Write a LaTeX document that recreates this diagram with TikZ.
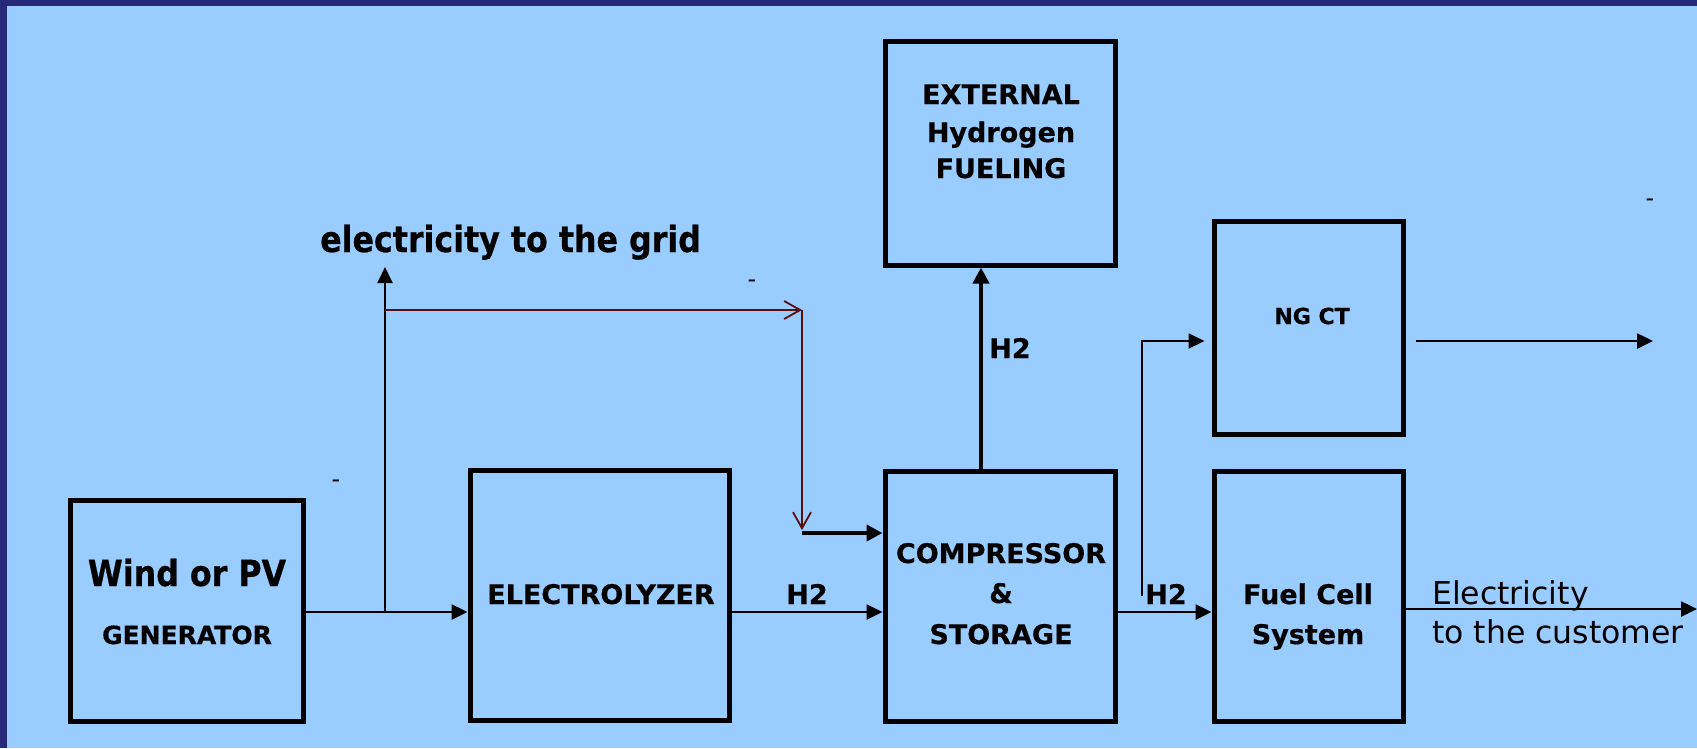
\documentclass[tikz,border=0pt]{standalone}
\usepackage{fontspec}
\setmainfont{DejaVu Sans}[BoldFeatures={FakeBold=0.5}]
\newfontfamily\condbold{DejaVu Sans}[BoldFeatures={FakeStretch=0.88,FakeBold=0.6}]
\usetikzlibrary{arrows.meta}
\definecolor{bgblue}{RGB}{153,204,255}
\definecolor{frameblue}{RGB}{38,40,122}
\definecolor{darkred}{RGB}{90,14,14}
\begin{document}
\begin{tikzpicture}[x=1pt,y=-1pt,
  blk/.style={draw=black, line width=5pt, inner sep=0pt, outer sep=2.5pt},
  tb/.style={font={\fontsize{27}{32}\selectfont\bfseries}, anchor=base, inner sep=0pt},
  tbig/.style={font={\condbold\fontsize{36}{42}\selectfont\bfseries}, anchor=base, inner sep=0pt},
  tgen/.style={font={\fontsize{25}{30}\selectfont\bfseries}, anchor=base, inner sep=0pt},
  tng/.style={font={\fontsize{22}{26}\selectfont\bfseries}, anchor=base, inner sep=0pt},
  treg/.style={font={\fontsize{31.5}{38}\selectfont}, anchor=base west, inner sep=0pt},
  tdash/.style={font={\fontsize{24}{26}\selectfont}, inner sep=0pt},
  arr/.style={line width=2.5pt, -{Triangle[length=16pt,width=15pt]}},
  thinarr/.style={line width=2pt, -{Triangle[length=16pt,width=15pt]}},
  thickarr/.style={line width=4pt, -{Triangle[length=16pt,width=16pt]}},
  redarr/.style={draw=darkred, line width=1.8pt, -{Straight Barb[length=16pt,width=18pt,line width=1.8pt]}}
]
% background and frame
\fill[bgblue] (0,0) rectangle (1697,748);
\fill[frameblue] (0,0) rectangle (7,748);
\fill[frameblue] (0,0) rectangle (1697,6);
\useasboundingbox (0,0) rectangle (1697,748);

% boxes
\node[blk, minimum width=233pt, minimum height=221pt] (gen) at (186.5,610.5) {};
\node[blk, minimum width=259pt, minimum height=250pt] (elec) at (599.5,595) {};
\node[blk, minimum width=230pt, minimum height=250pt] (comp) at (1000,596) {};
\node[blk, minimum width=230pt, minimum height=224pt] (ext) at (1000,153) {};
\node[blk, minimum width=189pt, minimum height=213pt] (ngct) at (1308.5,327.5) {};
\node[blk, minimum width=189pt, minimum height=250pt] (fuel) at (1308.5,596) {};

% box texts
\node[tbig] (genA) at (187,586) {Wind or PV};
\node[tgen] (genB) at (187,644) {GENERATOR};
\node[tb] (elecT) at (601,604) {ELECTROLYZER};
\node[tb] (compA) at (1001,563) {COMPRESSOR};
\node[tb] (compB) at (1001,603) {\&};
\node[tb] (compC) at (1001,644) {STORAGE};
\node[tb] (extA) at (1001,104) {EXTERNAL};
\node[tb] (extB) at (1001,142) {Hydrogen};
\node[tb] (extC) at (1001,178) {FUELING};
\node[tng] (ngT) at (1312,324) {NG CT};
\node[tb] (fuelA) at (1308,604) {Fuel Cell};
\node[tb] (fuelB) at (1308,644) {System};

% free labels
\node[tbig, anchor=base west] (grid) at (320,252) {electricity to the grid};
\node[tb] (h2a) at (807,604) {H2};
\node[tb] (h2b) at (1010,358) {H2};
\node[tb] (h2c) at (1166,604) {H2};
\node[treg] (elA) at (1432,604) {Electricity};
\node[treg] (elB) at (1432,643) {to the customer};
\node[tdash] (d1) at (336,484) {-};
\node[tdash] (d2) at (752,284) {-};
\node[tdash] (d3) at (1650,203) {-};

% coordinates
\coordinate (split) at (385,612);
\coordinate (gridtip) at (385,267);
\coordinate (redcorner) at (802,310);
\coordinate (redend) at (802,530);
\coordinate (cin) at (802,533);
\coordinate (upx) at (981,0);
\coordinate (ngb) at (1142,596);
\coordinate (ngy) at (0,341);
\coordinate (ngout) at (1653,341);
\coordinate (eend) at (1697,609);

% connectors
\draw[arr] (gen.east |- split) -- (elec.west |- split);
\draw[thinarr] (split) -- (gridtip);
\draw[redarr] (split |- redcorner) -- (redcorner);
\draw[redarr] (redcorner) -- (redend);
\draw[thickarr] (cin) -- (comp.west |- cin);
\draw[arr] (elec.east |- split) -- (comp.west |- split);
\draw[thickarr] (comp.north -| upx) -- (ext.south -| upx);
\draw[arr] (comp.east |- split) -- (fuel.west |- split);
\draw[thinarr] (ngb) |- ([xshift=-7pt]ngct.west |- ngy);
\draw[arr] ([xshift=10pt]ngct.east |- ngy) -- (ngout);
\draw[arr] (fuel.east |- eend) -- (eend);
\end{tikzpicture}
\end{document}
